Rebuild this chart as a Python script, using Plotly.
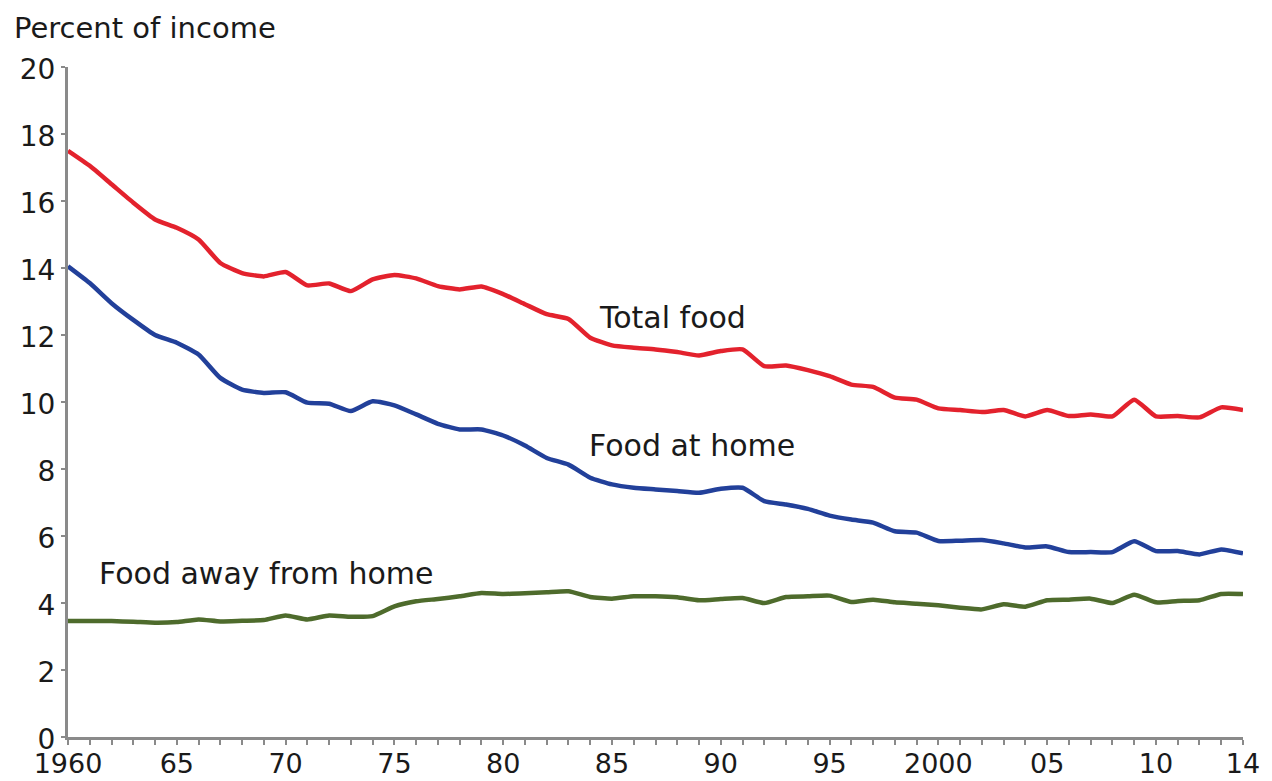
import plotly.graph_objects as go

years = list(range(1960, 2015))

total_food = [17.5, 17.05, 16.5, 15.95, 15.45, 15.2, 14.85, 14.15, 13.85, 13.75,
              13.88, 13.48, 13.54, 13.31, 13.66, 13.79, 13.69, 13.46, 13.36, 13.45,
              13.22, 12.92, 12.62, 12.48, 11.92, 11.69, 11.62, 11.57, 11.49, 11.39,
              11.52, 11.57, 11.07, 11.09, 10.95, 10.77, 10.52, 10.45, 10.13, 10.07,
              9.81, 9.76, 9.70, 9.76, 9.57, 9.76, 9.58, 9.63, 9.57, 10.07,
              9.57, 9.58, 9.54, 9.84, 9.76]

food_at_home = [14.05, 13.55, 12.95, 12.45, 12.0, 11.77, 11.42, 10.72, 10.37, 10.27,
                10.29, 9.98, 9.95, 9.73, 10.02, 9.9, 9.63, 9.35, 9.18, 9.18,
                9.0, 8.7, 8.33, 8.13, 7.74, 7.54, 7.44, 7.39, 7.34, 7.29,
                7.41, 7.44, 7.04, 6.94, 6.81, 6.61, 6.49, 6.4, 6.14, 6.1,
                5.85, 5.86, 5.88, 5.78, 5.66, 5.69, 5.52, 5.52, 5.52, 5.84,
                5.55, 5.55, 5.45, 5.6, 5.48]

food_away = [3.46, 3.46, 3.46, 3.44, 3.41, 3.43, 3.51, 3.45, 3.47, 3.49,
             3.63, 3.51, 3.63, 3.59, 3.61, 3.9, 4.05, 4.12, 4.2, 4.3,
             4.27, 4.29, 4.32, 4.35, 4.18, 4.13, 4.2, 4.2, 4.17, 4.08,
             4.12, 4.15, 4.0, 4.18, 4.2, 4.22, 4.03, 4.1, 4.02, 3.98,
             3.93, 3.86, 3.81, 3.96, 3.89, 4.08, 4.1, 4.13, 4.0, 4.25,
             4.02, 4.06, 4.08, 4.27, 4.27]

x_labels = {1960: "1960", 1965: "65", 1970: "70", 1975: "75", 1980: "80", 1985: "85",
            1990: "90", 1995: "95", 2000: "2000", 2005: "05", 2010: "10", 2014: "14"}
y_ticks = list(range(0, 21, 2))

series_labels = [
    ("Total food", 1984.3, 12.52),
    ("Food at home", 1983.85, 8.70),
    ("Food away from home", 1961.35, 4.88),
]

FONT = "DejaVu Sans"
TXT = "#1a1a1a"

fig = go.Figure()
fig.add_trace(go.Scatter(x=years, y=total_food, mode="lines",
                         line=dict(color="#e3222d", width=4.5, shape="spline", smoothing=0.5),
                         name="Total food"))
fig.add_trace(go.Scatter(x=years, y=food_at_home, mode="lines",
                         line=dict(color="#22409a", width=4.5, shape="spline", smoothing=0.5),
                         name="Food at home"))
fig.add_trace(go.Scatter(x=years, y=food_away, mode="lines",
                         line=dict(color="#4e6b2c", width=4.5, shape="spline", smoothing=0.5),
                         name="Food away from home"))

for text, xv, yv in series_labels:
    fig.add_annotation(x=xv, y=yv, text=text, showarrow=False, xanchor="left",
                       yanchor="middle", font=dict(family=FONT, size=30, color=TXT))

fig.add_annotation(xref="paper", yref="paper", x=-0.048, y=1.087, text="Percent of income",
                   showarrow=False, xanchor="left", yanchor="top",
                   font=dict(family=FONT, size=29, color=TXT))

fig.update_layout(
    width=1264, height=773,
    margin=dict(l=60, r=29, t=59, b=44, autoexpand=False),
    paper_bgcolor="white", plot_bgcolor="white",
    showlegend=False,
    font=dict(family=FONT, size=30, color=TXT),
)
fig.update_xaxes(
    range=[1960, 2014], tickmode="array", tickvals=years,
    ticktext=[x_labels.get(y, "") for y in years],
    showgrid=False, zeroline=False, showline=True, linecolor="#8a8a8a", linewidth=3,
    ticks="outside", ticklen=5, tickwidth=2, tickcolor="#8a8a8a", automargin=False,
    ticklabelstandoff=-4,
    tickfont=dict(family=FONT, size=27, color=TXT),
)
fig.update_yaxes(
    range=[0, 20], tickmode="array", tickvals=y_ticks,
    showgrid=False, zeroline=False, showline=True, linecolor="#8a8a8a", linewidth=3,
    ticks="outside", ticklen=4, tickwidth=2, tickcolor="#8a8a8a", automargin=False,
    ticklabelshift=2,
    tickfont=dict(family=FONT, size=28, color=TXT),
)

fig.write_html("out.html")
